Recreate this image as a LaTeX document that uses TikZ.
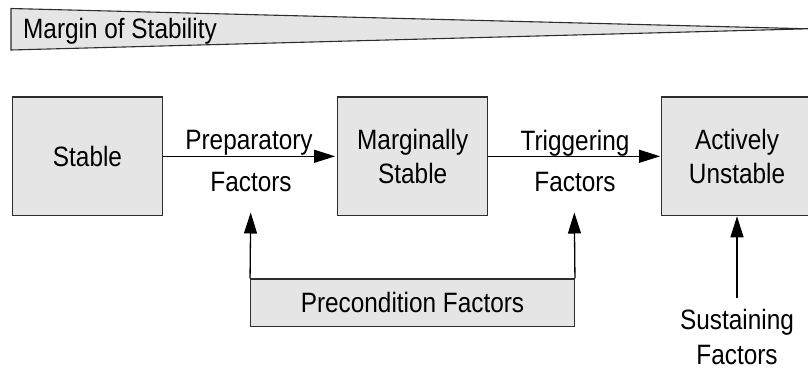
\documentclass[tikz,border=0pt]{standalone}
\usepackage{fontspec}
\setmainfont[FakeStretch=0.87]{Liberation Sans}
\usetikzlibrary{arrows.meta}
\definecolor{boxgray}{RGB}{229,229,229}
\definecolor{edge}{RGB}{45,45,45}
\begin{document}
\begin{tikzpicture}[x=1pt,y=-1pt,
  every node/.style={font=\fontsize{28}{34.5}\selectfont, inner sep=0pt},
  statebox/.style={draw=edge, fill=boxgray, line width=1.3pt, align=center, minimum height=118.7pt},
  lbl/.style={anchor=base},
  arr/.style={-{Triangle[length=21pt,width=13pt]}, line width=1.3pt}]
\useasboundingbox (0,0) rectangle (808,370);
\clip (0,0) rectangle (808,370);
% margin of stability wedge
\draw[draw=edge, fill=boxgray, line width=1.1pt] (11,8.5) -- (808,28.8) -- (11,50) -- cycle;
\node[anchor=base west] (mos) at (23,38.3) {Margin of Stability};
% state boxes
\node[statebox, minimum width=150.4pt] (st) at (87.5,156.3) {Stable};
\node[statebox, minimum width=150pt] (ms) at (412.7,156.3) {Marginally\\Stable};
\node[statebox, minimum width=150.6pt] (au) at (737,156.3) {Actively\\Unstable};
% transitions
\draw[arr, shorten >=2pt] (st.east) -- (ms.west);
\draw[arr, shorten >=1pt] (ms.east) -- (au.west);
\node[lbl] (prep) at (249,149.3) {Preparatory};
\node[lbl] (prepf) at (251,191.7) {Factors};
\node[lbl] (trig) at (575,150) {Triggering};
\node[lbl] (trigf) at (575,191.7) {Factors};
% precondition factors
\node[draw=edge, fill=boxgray, line width=1.3pt, minimum width=323.6pt, minimum height=47.7pt] (pc) at (412.5,302.9) {Precondition Factors};
\coordinate (t1) at (250.7,212.5);
\coordinate (t2) at (574.3,212.5);
\draw[arr] (pc.north west) -- (t1);
\draw[arr] (pc.north east) -- (t2);
% sustaining factors
\node[align=center, anchor=north] (sus) at (737,309.5) {Sustaining\\Factors};
\draw[arr] ([yshift=11.5pt]sus.north) -- (au.south);
\end{tikzpicture}
\end{document}
